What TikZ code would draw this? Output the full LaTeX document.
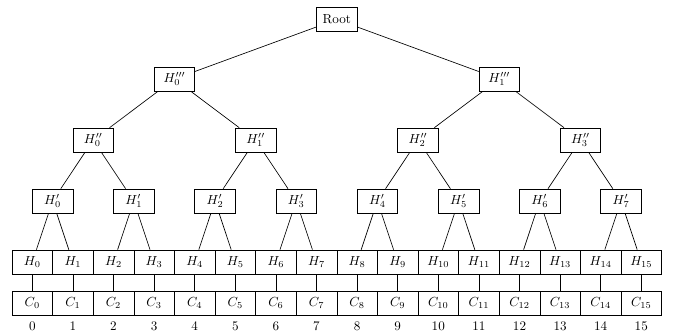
\documentclass[tikz,border=0pt]{standalone}
\begin{document}
\begin{tikzpicture}[x=0.762pt,y=-0.762pt,
  box/.style={draw,minimum width=30.9pt,minimum height=18.4pt,inner sep=2pt,font=\normalsize},
  lbl/.style={inner sep=1pt,font=\normalsize},
  edge/.style={draw,line width=0.5pt}]
\useasboundingbox (0,0) rectangle (678,334);
\node[box] (root) at (336.8,19.5) {Root};
\foreach \m in {0,1}{
  \node[box] (r\m) at ({32.3+40.6*(8*\m+3.5)},79) {$H_{\m}'''$};
}
\foreach \k in {0,...,3}{
  \node[box] (q\k) at ({32.3+40.6*(4*\k+1.5)},140) {$H_{\k}''$};
}
\foreach \j in {0,...,7}{
  \node[box] (p\j) at ({32.3+40.6*(2*\j+0.5)},201) {$H_{\j}'$};
}
\foreach \i in {0,...,15}{
  \node[box] (l\i) at ({32.3+40.6*\i},262) {$H_{\i}$};
  \node[box] (c\i) at ({32.3+40.6*\i},303.5) {$C_{\i}$};
  \node[lbl] (n\i) at ({32.3+40.6*\i},326) {\i};
  \draw[edge] (l\i) -- (c\i);
}
\foreach \m in {0,1}{ \draw[edge] (root) -- (r\m); }
\foreach \k [evaluate=\k as \m using {int(\k/2)}] in {0,...,3}{ \draw[edge] (r\m) -- (q\k); }
\foreach \j [evaluate=\j as \k using {int(\j/2)}] in {0,...,7}{ \draw[edge] (q\k) -- (p\j); }
\foreach \i [evaluate=\i as \j using {int(\i/2)}] in {0,...,15}{ \draw[edge] (p\j) -- (l\i); }
\end{tikzpicture}
\end{document}
